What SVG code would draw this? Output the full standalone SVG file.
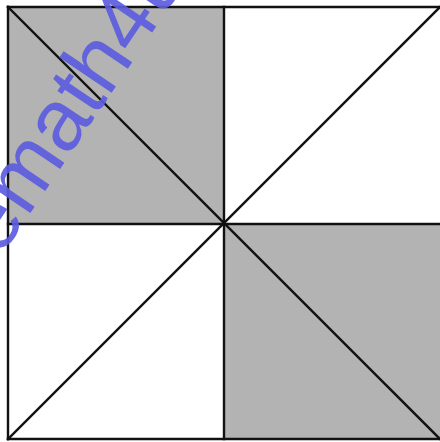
<svg xmlns="http://www.w3.org/2000/svg" width="440" height="442" viewBox="0 0 440 442">
<style>
.ln{stroke:#111;stroke-width:2.4;fill:none;stroke-linecap:square}
.sh{fill:#b3b3b3}
.wm{font-family:"Liberation Sans",Arial,sans-serif;font-size:87px;fill:#5c5ce0;fill-opacity:0.92}
</style>
<rect x="0" y="0" width="440" height="442" fill="#fff"/>
<g id="quad-tl"><rect class="sh" x="8" y="7" width="216" height="217"/></g>
<g id="quad-br"><rect class="sh" x="224" y="224" width="216" height="215"/></g>
<g id="lines">
<line class="ln" x1="8" y1="7" x2="440" y2="7"/>
<line class="ln" x1="8" y1="439" x2="440" y2="439"/>
<line class="ln" x1="8" y1="7" x2="8" y2="439"/>
<line class="ln" x1="224" y1="7" x2="224" y2="439"/>
<line class="ln" x1="8" y1="224" x2="440" y2="224"/>
<line class="ln" x1="8" y1="7" x2="440" y2="439"/>
<line class="ln" x1="8" y1="439" x2="440" y2="7"/>
</g>
<g id="watermark"><text class="wm" transform="translate(0,258) rotate(-56)">emath4u</text></g>
</svg>
